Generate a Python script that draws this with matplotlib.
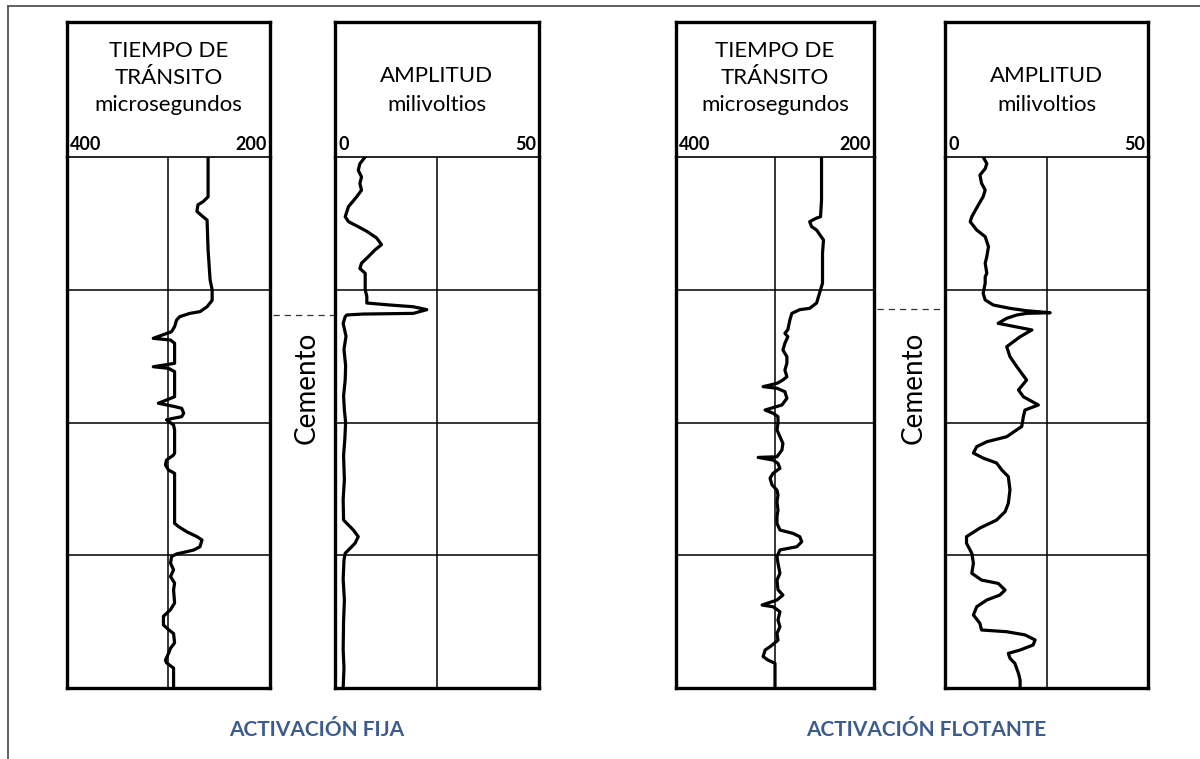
"""Registro CBL: tiempo de tránsito y amplitud, activación fija vs flotante.

Cuatro pistas de registro (dos por modo de activación) con su cabecera,
la marca del tope de cemento y el título de cada par.
Salida: out.png (1200x759).
"""
import matplotlib
matplotlib.use("Agg")
import matplotlib.pyplot as plt
from matplotlib.transforms import blended_transform_factory

plt.rcParams["font.family"] = ["Lato", "DejaVu Sans"]

tt_fija_depth = [0, 30, 33.7, 36, 41, 45, 47.5, 70, 92.7, 100,
                 108, 112.8, 116.5, 117.8, 120.3, 122.8, 127.8, 131.6, 136.6, 137.9,
                 140.3, 155.4, 158, 159.2, 161.7, 180.6, 185.5, 188, 189.3, 193,
                 195.6, 196.8, 198, 201.9, 205.6, 223, 224.5, 228.3, 232, 235.8,
                 238.3, 276, 278.5, 282.3, 286, 288.5, 293.6, 296, 297.3, 299,
                 301, 306, 311, 316, 321, 326, 336, 341, 346, 352.5,
                 356, 359, 366, 370, 374, 379, 381, 385, 400]
tt_fija_us = [261, 261, 266, 271, 272, 266, 262, 261, 259, 257,
              257, 262, 269, 279, 289, 292, 294, 297, 315, 298,
              294, 294, 315, 300, 294, 294, 310, 294, 287, 285,
              287, 295, 302, 295, 294, 294, 295, 302, 303, 300,
              294, 294, 290, 282, 272, 267, 269, 275, 282, 292,
              297, 298, 295, 298, 294, 295, 294, 298, 305, 305,
              300, 295, 294, 298, 300, 303, 302, 295, 295]

amp_fija_depth = [0, 5, 10, 15, 20, 25, 30, 37.4, 45, 48.7,
                  52.5, 56, 61, 66, 70, 75, 80, 84, 87.6, 92.7,
                  100, 105, 110, 111.5, 112.8, 115, 117.8, 118.3, 119, 120.3,
                  125.3, 135, 145, 157, 168, 180, 190.6, 200, 213, 225,
                  243, 258, 273.5, 281, 286, 291, 294.8, 298.5, 303.6, 318,
                  333.7, 350, 371, 385, 400]
amp_fija_mv = [7.4, 6.1, 5.7, 6.5, 6.1, 6.5, 5.3, 3.3, 2.5, 3.3,
               5.7, 7.8, 10.2, 11.4, 9.8, 8.2, 6.5, 6.1, 7.4, 7.4,
               7.4, 7.8, 7.8, 13.5, 19.2, 22.5, 19.2, 6.9, 2.9, 2.5,
               2.0, 2.7, 2.2, 2.6, 2.5, 2.1, 2.3, 2.6, 2.4, 2.1,
               2.3, 2.0, 2.1, 4.5, 5.7, 4.9, 3.7, 2.5, 2.2, 2.0,
               2.3, 2.1, 2.0, 2.2, 2.0]

tt_flot_depth = [0, 32.4, 45, 46, 48.7, 52.5, 55, 58.8, 62.5, 72.3,
                 95, 100, 105, 110, 114, 115, 117.8, 122.8, 130, 132.8,
                 135.4, 140.3, 145.4, 150.4, 155.4, 160.5, 165.5, 168, 170.5, 173,
                 174.2, 176.8, 181.8, 186.8, 190.6, 193, 195.6, 200.6, 205.6, 210.7,
                 215.7, 220.7, 225.8, 226.3, 228.3, 230.8, 234.5, 238.3, 242, 247,
                 251, 254.6, 259.7, 266, 271, 276, 281, 283.5, 286, 289.8,
                 293.6, 296, 301, 306, 313.6, 318.7, 326, 330, 333.7, 337.5,
                 338.8, 342.5, 348.8, 353.9, 358.8, 364, 368.9, 371.4, 376.4, 379,
                 381.4, 386.4, 400]
tt_flot_us = [253, 253, 254, 258, 265, 263, 258, 254.5, 251, 252,
              252, 254, 256, 258, 265, 275, 283, 285, 287, 290,
              287, 290, 292, 288, 288, 290, 288, 292, 298, 312,
              298, 290, 288, 293, 310, 302, 297, 297, 298, 295,
              292, 293, 298, 317, 302, 297, 295, 302, 305, 303,
              298, 297, 298, 297, 298, 298, 295, 282, 275, 273,
              278, 295, 298, 297, 295, 298, 297, 292, 298, 313,
              302, 295, 297, 295, 298, 297, 305, 310, 312, 307,
              300, 300, 300]

amp_flot_depth = [0, 5, 8.8, 13.6, 19.8, 24.9, 29.9, 36.2, 45, 48.7,
                  55, 60, 67.6, 75, 80, 87.6, 90.2, 95, 102.7, 107.7,
                  111.5, 114, 115.8, 117.3, 117.8, 119, 121.5, 125.3, 130.3, 135.4,
                  142.9, 150.4, 158, 168, 175.5, 180.6, 186.8, 190.6, 195.6, 203,
                  210.7, 214.5, 218.2, 223, 226.8, 230.5, 235.8, 240.8, 250.8, 260.9,
                  267.2, 273.5, 279.5, 286, 291, 298.5, 306, 313.6, 318.7, 321.2,
                  326.2, 330, 333.7, 338.8, 345, 351.3, 356.3, 357.6, 360, 363.8,
                  367.6, 371.4, 373.9, 377.6, 381.4, 389, 394, 400]
amp_flot_mv = [9.4, 10.3, 9.9, 8.6, 9.0, 9.9, 9.4, 8.2, 6.6, 6.2,
               7.8, 9.9, 10.7, 10.3, 9.9, 10.3, 9.9, 9.9, 9.4, 9.9,
               11.9, 16.0, 20.1, 25.9, 20.1, 17.7, 15.2, 13.1, 21.4, 18.5,
               15.2, 16.0, 17.7, 20.1, 18.1, 19.3, 23.0, 19.7, 19.3, 18.9,
               15.2, 10.3, 7.8, 7.0, 9.4, 12.7, 14.0, 15.6, 16.0, 15.6,
               14.8, 12.7, 8.6, 5.3, 5.3, 6.6, 7.0, 6.6, 9.0, 13.1,
               14.8, 13.5, 10.3, 7.8, 7.0, 8.6, 9.0, 15.2, 19.7, 22.2,
               21.7, 18.5, 15.6, 16.0, 17.2, 18.1, 18.5, 18.5]

cement_top = [119, 114.5]          # fija, flotante
tt_scale = (400, 200)
amp_scale = (0, 50)
panel_titles = ["ACTIVACIÓN FIJA", "ACTIVACIÓN FLOTANTE"]

W, H = 1200, 759
Y_TOP, Y_HEAD, Y_BOT = 22, 157, 688
TITLE_BLUE = "#3B5C8C"


def _rect(x0, y0, x1, y1):
    """pixel box -> figure fraction rect"""
    return [x0 / W, 1 - y1 / H, (x1 - x0) / W, (y1 - y0) / H]


def _track(fig, x0, x1, depth, vals, scale, head_lines, left_lab, right_lab):
    # header box
    hx = fig.add_axes(_rect(x0, Y_TOP, x1, Y_HEAD))
    hx.set_xticks([])
    hx.set_yticks([])
    for s in ("left", "right", "top"):
        hx.spines[s].set_linewidth(2.4)
    hx.spines["bottom"].set_visible(False)
    for txt, ypix in head_lines:
        hx.text(0.5, (Y_HEAD - ypix) / (Y_HEAD - Y_TOP), txt, ha="center",
                va="center", fontsize=16, transform=hx.transAxes)
    hx.text(0.015, 0.09, left_lab, ha="left", va="center", fontsize=13,
            fontweight="bold", transform=hx.transAxes)
    hx.text(0.985, 0.09, right_lab, ha="right", va="center", fontsize=13,
            fontweight="bold", transform=hx.transAxes)

    # data track
    ax = fig.add_axes(_rect(x0, Y_HEAD, x1, Y_BOT))
    ax.set_xlim(*scale)
    ax.set_ylim(400, 0)
    ax.set_xticks([])
    ax.set_yticks([])
    for s in ("left", "right", "bottom"):
        ax.spines[s].set_linewidth(2.4)
    ax.spines["top"].set_linewidth(1.2)
    ax.axvline(sum(scale) / 2, color="black", lw=1.1)
    for d in (100, 200, 300):
        ax.axhline(d, color="black", lw=1.1)
    ax.plot(vals, depth, color="black", lw=2.3, solid_joinstyle="round")
    return ax


def main():
    fig = plt.figure(figsize=(W / 100, H / 100), dpi=100)

    # page frame (cropped at right and bottom)
    fig.add_artist(plt.Line2D([8 / W, 1], [1 - 6 / H, 1 - 6 / H],
                              transform=fig.transFigure, color="#555555", lw=1.3))
    fig.add_artist(plt.Line2D([8 / W, 8 / W], [0, 1 - 6 / H],
                              transform=fig.transFigure, color="#555555", lw=1.3))

    tt_head = [("TIEMPO DE", 51), ("TRÁNSITO", 78), ("microsegundos", 105)]
    amp_head = [("AMPLITUD", 76), ("milivoltios", 105)]

    sets = [
        ((67, 270), (335, 539), tt_fija_depth, tt_fija_us, amp_fija_depth, amp_fija_mv),
        ((676, 874), (945, 1148), tt_flot_depth, tt_flot_us, amp_flot_depth, amp_flot_mv),
    ]
    for i, (tx, axx, tdep, tval, adep, aval) in enumerate(sets):
        _track(fig, tx[0], tx[1], tdep, tval, tt_scale, tt_head,
               str(tt_scale[0]), str(tt_scale[1]))
        amp_ax = _track(fig, axx[0], axx[1], adep, aval, amp_scale, amp_head,
                        str(amp_scale[0]), str(amp_scale[1]))

        # cement top marker between the two tracks
        tr = blended_transform_factory(fig.transFigure, amp_ax.transData)
        amp_ax.plot([(tx[1] + 3) / W, axx[0] / W], [cement_top[i]] * 2,
                    transform=tr, color="#333333", lw=0.9, ls=(0, (5, 4)),
                    clip_on=False)
        mid = (tx[1] + axx[0]) / 2
        fig.text((mid + 4) / W, 1 - 388 / H, "Cemento", rotation=90,
                 ha="center", va="center", fontsize=20)

        fig.text(((tx[0] + axx[1]) / 2 + 14) / W, 1 - 730 / H, panel_titles[i],
                 ha="center", va="center", fontsize=15, fontweight="bold",
                 color=TITLE_BLUE)

    fig.savefig("out.png", dpi=100)
    plt.close(fig)


if __name__ == "__main__":
    main()
